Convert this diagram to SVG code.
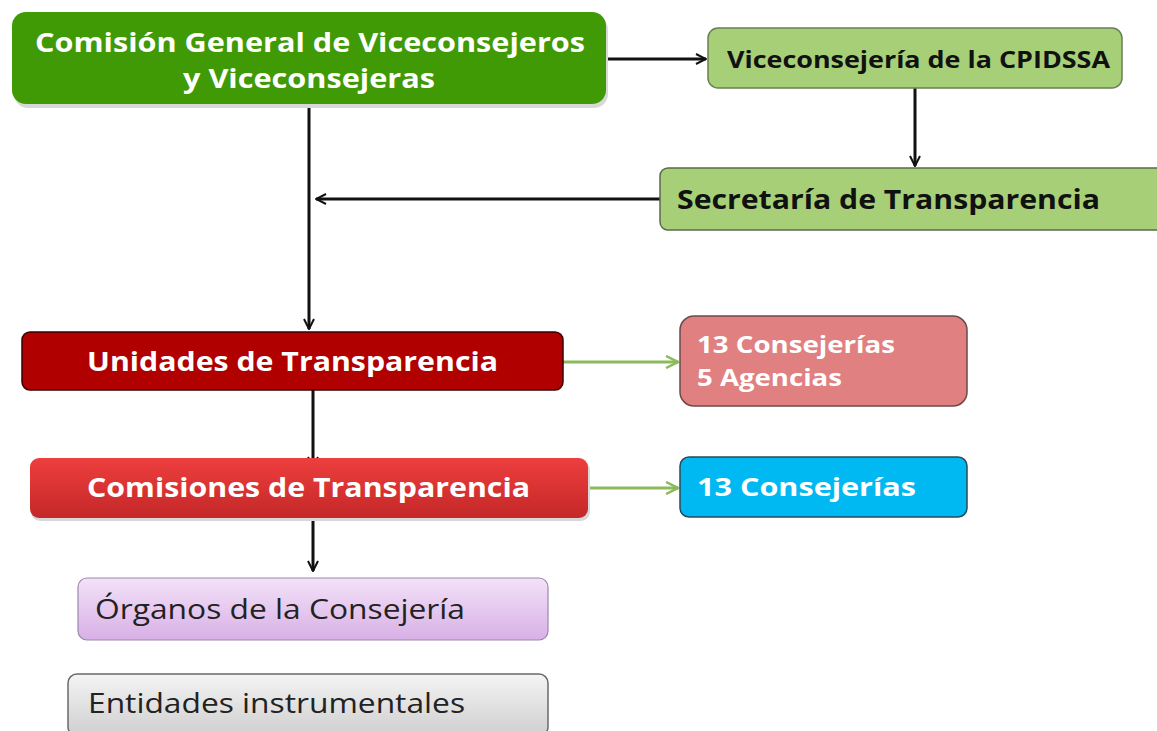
<svg xmlns="http://www.w3.org/2000/svg" width="1157" height="731" viewBox="0 0 1157 731">
<defs>
<style>
.t{font-family:"Open Sans","Liberation Sans",sans-serif;font-weight:bold}
.w{fill:#ffffff}
.k{fill:#111111}
.n{font-family:"Open Sans","Liberation Sans",sans-serif;font-weight:normal;fill:#222222}
.con{fill:none;stroke:#111111;stroke-width:3}
.gcon{fill:none;stroke:#8cba5c;stroke-width:3}
</style>
<marker id="ah" viewBox="0 0 12 12" refX="11" refY="6" markerWidth="12" markerHeight="12" markerUnits="userSpaceOnUse" orient="auto">
<path d="M1,1 L11,6 L1,11" fill="none" stroke="#111111" stroke-width="2"/>
</marker>
<marker id="gh" viewBox="0 0 14 14" refX="13" refY="7" markerWidth="14" markerHeight="14" markerUnits="userSpaceOnUse" orient="auto">
<path d="M1,1 L13,7 L1,13" fill="none" stroke="#8cba5c" stroke-width="2.5"/>
</marker>
<linearGradient id="gRed" x1="0" y1="0" x2="0" y2="1">
<stop offset="0" stop-color="#ee3e3e"/>
<stop offset="1" stop-color="#c42828"/>
</linearGradient>
<linearGradient id="gPur" x1="0" y1="0" x2="0" y2="1">
<stop offset="0" stop-color="#f3e2f8"/>
<stop offset="1" stop-color="#d8b0e6"/>
</linearGradient>
<linearGradient id="gGry" x1="0" y1="0" x2="0" y2="1">
<stop offset="0" stop-color="#f4f4f4"/>
<stop offset="1" stop-color="#cfcfcf"/>
</linearGradient>
</defs>
<rect width="1157" height="731" fill="#ffffff"/>

<g id="connectors">
<path class="con" d="M605,59 L706,59" marker-end="url(#ah)"/>
<path class="con" d="M915,88 L915,166" marker-end="url(#ah)"/>
<path class="con" d="M660,199 L316,199" marker-end="url(#ah)"/>
<path class="con" d="M309,106 L309,329" marker-end="url(#ah)"/>
<path class="con" d="M313,390 L313,467" marker-end="url(#ah)"/>
<path class="con" d="M313,520 L313,571" marker-end="url(#ah)"/>
<path class="gcon" d="M563,362 L678,362" marker-end="url(#gh)"/>
<path class="gcon" d="M588,488 L678,488" marker-end="url(#gh)"/>
</g>

<g id="n-comision">
<rect x="14" y="16" width="594" height="92" rx="14" fill="#d8d8d8"/>
<rect x="12" y="12" width="594" height="92" rx="14" fill="#3f9a05"/>
<text class="t w" x="35" y="52" font-size="27" textLength="550" lengthAdjust="spacingAndGlyphs">Comisión General de Viceconsejeros</text>
<text class="t w" x="183" y="88" font-size="27" textLength="252" lengthAdjust="spacingAndGlyphs">y Viceconsejeras</text>
</g>

<g id="n-vicecons">
<rect x="708" y="28" width="414" height="60" rx="10" fill="#a6cf78" stroke="#6a7f55" stroke-width="1.5"/>
<text class="t k" x="727" y="68" font-size="24" textLength="383" lengthAdjust="spacingAndGlyphs">Viceconsejería de la CPIDSSA</text>
</g>

<g id="n-secretaria">
<rect x="660" y="168" width="510" height="62" rx="8" fill="#a6cf78" stroke="#5a6b4a" stroke-width="1.5"/>
<text class="t k" x="677" y="209" font-size="26" textLength="423" lengthAdjust="spacingAndGlyphs">Secretaría de Transparencia</text>
</g>

<g id="n-unidades">
<rect x="22" y="332" width="541" height="58" rx="8" fill="#b00000" stroke="#3a0000" stroke-width="1.5"/>
<text class="t w" x="87" y="371" font-size="27" textLength="411" lengthAdjust="spacingAndGlyphs">Unidades de Transparencia</text>
</g>

<g id="n-13cons5ag">
<rect x="680" y="316" width="287" height="90" rx="14" fill="#e08080" stroke="#6b4a4a" stroke-width="1.5"/>
<text class="t w" x="697" y="353" font-size="23" textLength="198" lengthAdjust="spacingAndGlyphs">13 Consejerías</text>
<text class="t w" x="697" y="386" font-size="23" textLength="145" lengthAdjust="spacingAndGlyphs">5 Agencias</text>
</g>

<g id="n-comisiones">
<rect x="31" y="461" width="559" height="60" rx="9" fill="#d8d8d8"/>
<rect x="30" y="458" width="558" height="60" rx="9" fill="url(#gRed)"/>
<text class="t w" x="87" y="497" font-size="27" textLength="443" lengthAdjust="spacingAndGlyphs">Comisiones de Transparencia</text>
</g>

<g id="n-13cons">
<rect x="680" y="457" width="287" height="60" rx="9" fill="#00b8f2" stroke="#2a4a5a" stroke-width="1.5"/>
<text class="t w" x="697" y="496" font-size="25" textLength="219" lengthAdjust="spacingAndGlyphs">13 Consejerías</text>
</g>

<g id="n-organos">
<rect x="78" y="578" width="470" height="62" rx="9" fill="url(#gPur)" stroke="#9c88a8" stroke-width="1.2"/>
<text class="n" x="95" y="619" font-size="28" textLength="370" lengthAdjust="spacingAndGlyphs">Órganos de la Consejería</text>
</g>

<g id="n-entidades">
<rect x="68" y="674" width="480" height="62" rx="9" fill="url(#gGry)" stroke="#6a6a6a" stroke-width="1.5"/>
<text class="n" x="88" y="713" font-size="28" textLength="377" lengthAdjust="spacingAndGlyphs">Entidades instrumentales</text>
</g>
</svg>
